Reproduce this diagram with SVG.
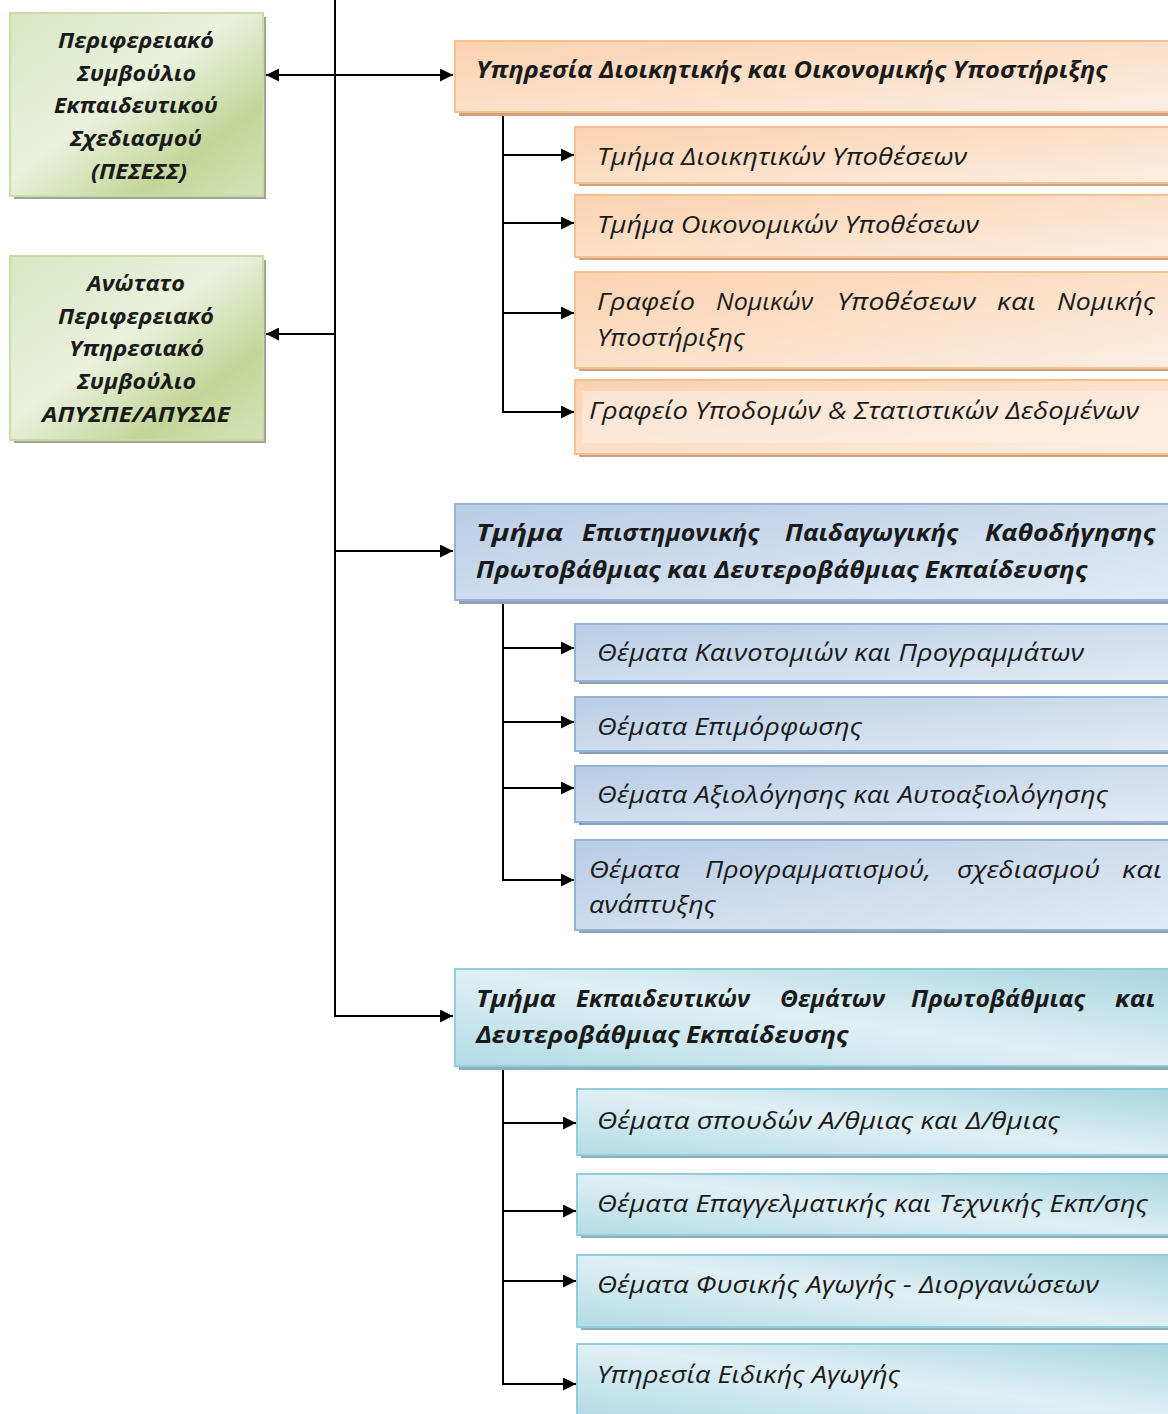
<svg xmlns="http://www.w3.org/2000/svg" width="1168" height="1414" viewBox="0 0 1168 1414">
<defs>
<style>
.t{font-family:"Open Sans","Noto Sans","DejaVu Sans",sans-serif;font-style:italic;font-size:23px;fill:#1a1a1a}
.b{font-weight:bold}
.g{font-family:"Open Sans","Noto Sans","DejaVu Sans",sans-serif;font-style:italic;font-weight:bold;font-size:22px;fill:#1a1a1a}
.ln{stroke:#000;stroke-width:2;fill:none}
.or{fill:url(#gOr);stroke:#f9bf8f;stroke-width:2}
.bl{fill:url(#gBl);stroke:#95b3d7;stroke-width:2}
.te{fill:url(#gTe);stroke:#92cddc;stroke-width:2}
.gr{fill:url(#gGr);stroke:#c9dba8;stroke-width:2}
.sOr{fill:#c9a282}
.sBl{fill:#8e9fb5}
.sTe{fill:#8fadb6}
.sGr{fill:#9ea791}
</style>
<linearGradient id="gOr" x1="0" y1="0" x2="1" y2="1">
<stop offset="0" stop-color="#fbd2b0"/><stop offset="1" stop-color="#fdeee2"/>
</linearGradient>
<linearGradient id="gBl" x1="0" y1="0" x2="1" y2="1">
<stop offset="0" stop-color="#b9cde6"/><stop offset="1" stop-color="#e2ebf5"/>
</linearGradient>
<linearGradient id="gTe" x1="0" y1="1" x2="1" y2="0">
<stop offset="0" stop-color="#b3dbe6"/><stop offset="0.5" stop-color="#e0f0f5"/><stop offset="1" stop-color="#a9d5e1"/>
</linearGradient>
<linearGradient id="gGr" x1="0" y1="0" x2="1" y2="1">
<stop offset="0" stop-color="#d9e7c3"/><stop offset="0.45" stop-color="#eaf1dd"/><stop offset="0.75" stop-color="#c3d699"/><stop offset="1" stop-color="#d4e3b7"/>
</linearGradient>
<marker id="ah" viewBox="0 0 12 12" refX="12" refY="6" markerWidth="13" markerHeight="13" markerUnits="userSpaceOnUse" orient="auto-start-reverse">
<path d="M0,0 L12,6 L0,12 Z" fill="#000"/>
</marker>
</defs>

<g id="connectors">
<path class="ln" d="M335,0 V1016 H453" marker-end="url(#ah)"/>
<line class="ln" x1="266" y1="75" x2="453" y2="75" marker-start="url(#ah)" marker-end="url(#ah)"/>
<line class="ln" x1="335" y1="334" x2="266" y2="334" marker-end="url(#ah)"/>
<line class="ln" x1="335" y1="551" x2="453" y2="551" marker-end="url(#ah)"/>
<path class="ln" d="M503,112 V412 H574" marker-end="url(#ah)"/>
<line class="ln" x1="503" y1="155" x2="574" y2="155" marker-end="url(#ah)"/>
<line class="ln" x1="503" y1="223" x2="574" y2="223" marker-end="url(#ah)"/>
<line class="ln" x1="503" y1="313" x2="574" y2="313" marker-end="url(#ah)"/>
<path class="ln" d="M503,600 V880 H574" marker-end="url(#ah)"/>
<line class="ln" x1="503" y1="648" x2="574" y2="648" marker-end="url(#ah)"/>
<line class="ln" x1="503" y1="722" x2="574" y2="722" marker-end="url(#ah)"/>
<line class="ln" x1="503" y1="788" x2="574" y2="788" marker-end="url(#ah)"/>
<path class="ln" d="M503,1066 V1384 H576" marker-end="url(#ah)"/>
<line class="ln" x1="503" y1="1123" x2="576" y2="1123" marker-end="url(#ah)"/>
<line class="ln" x1="503" y1="1211" x2="576" y2="1211" marker-end="url(#ah)"/>
<line class="ln" x1="503" y1="1281" x2="576" y2="1281" marker-end="url(#ah)"/>
</g>

<g id="pesess">
<rect class="sGr" x="14" y="17" width="252" height="182"/>
<rect class="gr" x="10" y="13" width="253" height="183"/>
<text class="g" x="58" y="48" textLength="156" lengthAdjust="spacingAndGlyphs">Περιφερειακό</text>
<text class="g" x="77" y="81" textLength="119" lengthAdjust="spacingAndGlyphs">Συμβούλιο</text>
<text class="g" x="54" y="113" textLength="164" lengthAdjust="spacingAndGlyphs">Εκπαιδευτικού</text>
<text class="g" x="70" y="146" textLength="132" lengthAdjust="spacingAndGlyphs">Σχεδιασμού</text>
<text class="g" x="91" y="179" textLength="96" lengthAdjust="spacingAndGlyphs">(ΠΕΣΕΣΣ)</text>
</g>

<g id="apyspe">
<rect class="sGr" x="14" y="260" width="252" height="183"/>
<rect class="gr" x="10" y="256" width="253" height="184"/>
<text class="g" x="87" y="291" textLength="98" lengthAdjust="spacingAndGlyphs">Ανώτατο</text>
<text class="g" x="58" y="324" textLength="156" lengthAdjust="spacingAndGlyphs">Περιφερειακό</text>
<text class="g" x="69" y="356" textLength="135" lengthAdjust="spacingAndGlyphs">Υπηρεσιακό</text>
<text class="g" x="77" y="389" textLength="119" lengthAdjust="spacingAndGlyphs">Συμβούλιο</text>
<text class="g" x="42" y="422" textLength="188" lengthAdjust="spacingAndGlyphs">ΑΠΥΣΠΕ/ΑΠΥΣΔΕ</text>
</g>

<g id="ydoy">
<rect class="sOr" x="459" y="45" width="712" height="71"/>
<rect class="or" x="455" y="41" width="714" height="71"/>
<text class="t b" x="476" y="78" textLength="631" lengthAdjust="spacingAndGlyphs">Υπηρεσία Διοικητικής και Οικονομικής Υποστήριξης</text>
</g>
<g id="tda">
<rect class="sOr" x="579" y="131" width="592" height="55"/>
<rect class="or" x="575" y="127" width="594" height="56"/>
<text class="t" x="597" y="165" textLength="370" lengthAdjust="spacingAndGlyphs">Τμήμα Διοικητικών Υποθέσεων</text>
</g>
<g id="toy">
<rect class="sOr" x="579" y="199" width="592" height="61"/>
<rect class="or" x="575" y="195" width="594" height="62"/>
<text class="t" x="597" y="233" textLength="382" lengthAdjust="spacingAndGlyphs">Τμήμα Οικονομικών Υποθέσεων</text>
</g>
<g id="gnyns">
<rect class="sOr" x="579" y="276" width="592" height="95"/>
<rect class="or" x="575" y="272" width="594" height="96"/>
<text class="t"><tspan x="597" y="310" textLength="98" lengthAdjust="spacingAndGlyphs">Γραφείο</tspan><tspan x="716" y="310" textLength="97" lengthAdjust="spacingAndGlyphs">Νομικών</tspan><tspan x="837" y="310" textLength="139" lengthAdjust="spacingAndGlyphs">Υποθέσεων</tspan><tspan x="997" y="310" textLength="39" lengthAdjust="spacingAndGlyphs">και</tspan><tspan x="1057" y="310" textLength="98" lengthAdjust="spacingAndGlyphs">Νομικής</tspan></text>
<text class="t" x="597" y="346" textLength="148" lengthAdjust="spacingAndGlyphs">Υποστήριξης</text>
</g>
<g id="gysd">
<rect class="sOr" x="579" y="384" width="592" height="73"/>
<rect class="or" x="575" y="380" width="594" height="74"/>
<rect x="582" y="391" width="586" height="52" fill="#fdefe4" opacity="0.6"/>
<text class="t" x="589" y="419" textLength="550" lengthAdjust="spacingAndGlyphs">Γραφείο Υποδομών &amp; Στατιστικών Δεδομένων</text>
</g>

<g id="tepk">
<rect class="sBl" x="459" y="508" width="712" height="96"/>
<rect class="bl" x="455" y="504" width="714" height="96"/>
<text class="t b"><tspan x="476" y="541" textLength="87" lengthAdjust="spacingAndGlyphs">Τμήμα</tspan><tspan x="582" y="541" textLength="177" lengthAdjust="spacingAndGlyphs">Επιστημονικής</tspan><tspan x="785" y="541" textLength="173" lengthAdjust="spacingAndGlyphs">Παιδαγωγικής</tspan><tspan x="985" y="541" textLength="170" lengthAdjust="spacingAndGlyphs">Καθοδήγησης</tspan></text>
<text class="t b" x="476" y="578" textLength="611" lengthAdjust="spacingAndGlyphs">Πρωτοβάθμιας και Δευτεροβάθμιας Εκπαίδευσης</text>
</g>
<g id="kain">
<rect class="sBl" x="579" y="628" width="592" height="56"/>
<rect class="bl" x="575" y="624" width="594" height="57"/>
<text class="t" x="597" y="661" textLength="487" lengthAdjust="spacingAndGlyphs">Θέματα Καινοτομιών και Προγραμμάτων</text>
</g>
<g id="epim">
<rect class="sBl" x="579" y="701" width="592" height="53"/>
<rect class="bl" x="575" y="697" width="594" height="54"/>
<text class="t" x="597" y="735" textLength="265" lengthAdjust="spacingAndGlyphs">Θέματα Επιμόρφωσης</text>
</g>
<g id="axiol">
<rect class="sBl" x="579" y="770" width="592" height="55"/>
<rect class="bl" x="575" y="766" width="594" height="56"/>
<text class="t" x="597" y="803" textLength="511" lengthAdjust="spacingAndGlyphs">Θέματα Αξιολόγησης και Αυτοαξιολόγησης</text>
</g>
<g id="progr">
<rect class="sBl" x="579" y="844" width="592" height="89"/>
<rect class="bl" x="575" y="840" width="594" height="90"/>
<text class="t"><tspan x="589" y="878" textLength="91" lengthAdjust="spacingAndGlyphs">Θέματα</tspan><tspan x="705" y="878" textLength="226" lengthAdjust="spacingAndGlyphs">Προγραμματισμού,</tspan><tspan x="957" y="878" textLength="143" lengthAdjust="spacingAndGlyphs">σχεδιασμού</tspan><tspan x="1122" y="878" textLength="40" lengthAdjust="spacingAndGlyphs">και</tspan></text>
<text class="t" x="589" y="913" textLength="127" lengthAdjust="spacingAndGlyphs">ανάπτυξης</text>
</g>

<g id="tekp">
<rect class="sTe" x="459" y="973" width="712" height="97"/>
<rect class="te" x="455" y="969" width="714" height="97"/>
<text class="t b"><tspan x="476" y="1007" textLength="80" lengthAdjust="spacingAndGlyphs">Τμήμα</tspan><tspan x="576" y="1007" textLength="174" lengthAdjust="spacingAndGlyphs">Εκπαιδευτικών</tspan><tspan x="780" y="1007" textLength="105" lengthAdjust="spacingAndGlyphs">Θεμάτων</tspan><tspan x="911" y="1007" textLength="174" lengthAdjust="spacingAndGlyphs">Πρωτοβάθμιας</tspan><tspan x="1115" y="1007" textLength="40" lengthAdjust="spacingAndGlyphs">και</tspan></text>
<text class="t b" x="476" y="1043" textLength="372" lengthAdjust="spacingAndGlyphs">Δευτεροβάθμιας Εκπαίδευσης</text>
</g>
<g id="spoud">
<rect class="sTe" x="581" y="1093" width="590" height="65"/>
<rect class="te" x="577" y="1089" width="592" height="66"/>
<text class="t" x="597" y="1129" textLength="463" lengthAdjust="spacingAndGlyphs">Θέματα σπουδών Α/θμιας και Δ/θμιας</text>
</g>
<g id="epag">
<rect class="sTe" x="581" y="1178" width="590" height="60"/>
<rect class="te" x="577" y="1174" width="592" height="61"/>
<text class="t" x="597" y="1212" textLength="551" lengthAdjust="spacingAndGlyphs">Θέματα Επαγγελματικής και Τεχνικής Εκπ/σης</text>
</g>
<g id="fysik">
<rect class="sTe" x="581" y="1259" width="590" height="71"/>
<rect class="te" x="577" y="1255" width="592" height="72"/>
<text class="t" x="597" y="1293" textLength="502" lengthAdjust="spacingAndGlyphs">Θέματα Φυσικής Αγωγής - Διοργανώσεων</text>
</g>
<g id="eidik">
<rect class="sTe" x="581" y="1348" width="590" height="70"/>
<rect class="te" x="577" y="1344" width="592" height="72"/>
<text class="t" x="597" y="1383" textLength="303" lengthAdjust="spacingAndGlyphs">Υπηρεσία Ειδικής Αγωγής</text>
</g>
</svg>
